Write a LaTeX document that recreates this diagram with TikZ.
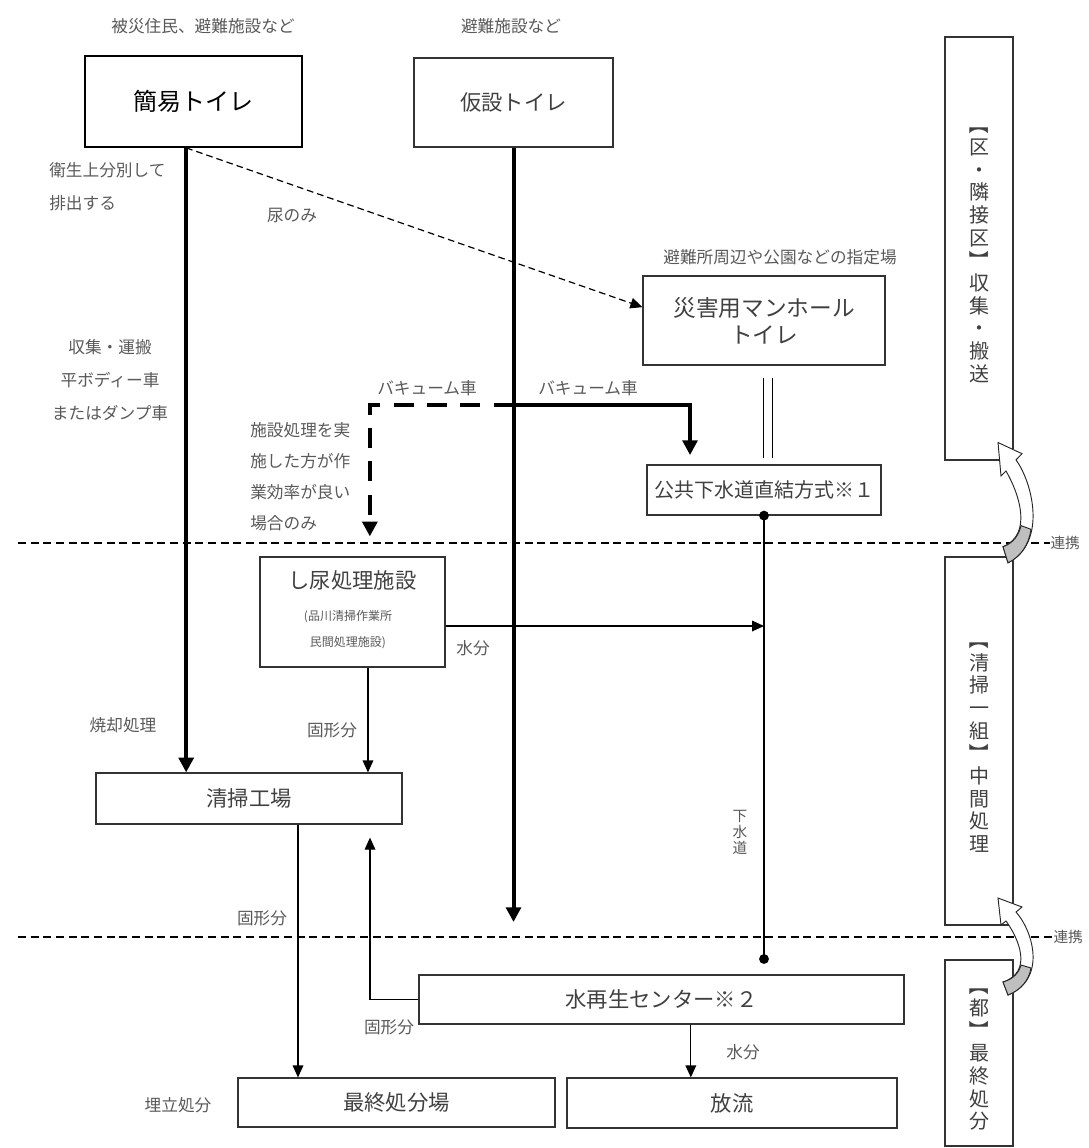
\documentclass[tikz,border=0pt]{standalone}
\usepackage{graphicx}
\usepackage{fontspec}
\setmainfont{Noto Sans CJK JP}
\usetikzlibrary{arrows.meta}

\tikzset{
  flowbox/.style={draw=black!80, line width=0.9pt, inner sep=0pt, text=black!75,
    font=\fontsize{16}{20}\selectfont},
  sidebox/.style={draw=black!80, line width=0.9pt, inner sep=0pt, minimum width=51pt,
    align=center, text=black!75, font=\fontsize{15}{17}\selectfont},
  lbl/.style={inner sep=0pt, text=black!65, font=\fontsize{12.5}{15}\selectfont},
  heavy/.style={line width=3pt, -{Triangle[width=11pt,length=11pt]}},
  light/.style={line width=0.9pt, -{Triangle[width=8pt,length=9pt]}},
  zoneline/.style={line width=0.8pt, dash pattern=on 6pt off 3.5pt},
}

% vertical brackets for the side boxes
\newcommand{\vopen}{\rotatebox[origin=c]{-90}{【}}
\newcommand{\vclose}{\rotatebox[origin=c]{-90}{】}}

\newcommand{\linkarrow}[1]{%
  \begin{scope}[#1]
    \filldraw[fill=white, draw=black!85, line width=0.7pt]
      (1008,995) .. controls (1047,979) and (1033,931) .. (1016,912)
      -- (1022,907) -- (998,898) -- (1001,925) -- (1006,921)
      .. controls (1019,939) and (1033,972) .. (1003,982) -- cycle;
    \filldraw[fill=black!25, draw=black!85, line width=0.7pt]
      (1008,995) .. controls (1021,990) and (1029,980) .. (1031,968)
      -- (1021,965) .. controls (1019,972) and (1014,979) .. (1003,982) -- cycle;
  \end{scope}}

\begin{document}
\begin{tikzpicture}[x=0.75pt, y=-0.75pt]
\useasboundingbox (0,0) rectangle (1088,1148);

% upper stage
\node[lbl] (hisai) at (203,26) {被災住民、避難施設など};
\node[lbl] (hinan) at (511,26) {避難施設など};
\node[flowbox, draw=black, line width=1.3pt, text=black, minimum width=162.75pt, minimum height=68.25pt,
  font=\fontsize{18}{20}\selectfont] (kanni) at (193.5,101.5) {簡易トイレ};
\node[flowbox, minimum width=149.25pt, minimum height=66.75pt] (kasetsu) at (513.5,102.5) {仮設トイレ};
\node[lbl] (shitei) at (780,257) {避難所周辺や公園などの指定場};
\node[flowbox, align=center, minimum width=181.5pt, minimum height=66.75pt,
  font=\fontsize{17}{20}\selectfont] (saigai) at (764,320.5) {災害用マンホール\\トイレ};
\node[flowbox, minimum width=175.5pt, minimum height=37.5pt,
  font=\fontsize{15}{18}\selectfont] (koukyou) at (764,490) {公共下水道直結方式※１};

\node[lbl, align=left, anchor=west, font=\fontsize{12.5}{24.75}\selectfont] (eisei) at (49,186.5) {衛生上分別して\\排出する};
\node[lbl] (nyou) at (292,215) {尿のみ};
\node[lbl, align=center, font=\fontsize{12.5}{24.75}\selectfont] (shuusyuu) at (110,380) {収集・運搬\\平ボディー車\\またはダンプ車};
\node[lbl, align=left, anchor=west, font=\fontsize{12.5}{23.25}\selectfont] (jouken) at (250,476.5) {施設処理を実\\施した方が作\\業効率が良い\\場合のみ};
\node[lbl] (vac1) at (427,388) {バキューム車};
\node[lbl] (vac2) at (588,388) {バキューム車};

% middle stage
\node[flowbox, minimum width=138.75pt, minimum height=82.5pt] (shinyo) at (352.5,612) {};
\node[text=black!75, font=\fontsize{16}{20}\selectfont, inner sep=0pt] (shinyot) at (352.5,580) {し尿処理施設};
\node[lbl, align=center, font=\fontsize{9}{19.5}\selectfont] (shinyos) at (348,630) {(品川清掃作業所\\民間処理施設)};
\node[flowbox, minimum width=229.5pt, minimum height=38.25pt] (seisou) at (249,798.5) {清掃工場};
\node[lbl] (syoukyaku) at (123,725) {焼却処理};
\node[lbl] (kokei1) at (332,730) {固形分};
\node[lbl] (suibun1) at (473,648) {水分};
\node[lbl, align=center, font=\fontsize{11}{12}\selectfont] (gesuidou) at (740,832) {下\\水\\道};
\node[lbl] (kokei2) at (262,918) {固形分};

% lower stage
\node[flowbox, minimum width=363.75pt, minimum height=36.75pt] (mizu) at (661.5,999.5) {水再生センター※２};
\node[lbl] (kokei3) at (389,1027) {固形分};
\node[lbl] (suibun2) at (743,1052) {水分};
\node[flowbox, minimum width=237.75pt, minimum height=36.75pt] (saishu) at (396.5,1102.5) {最終処分場};
\node[flowbox, minimum width=247.5pt, minimum height=37.5pt] (houryuu) at (732,1103) {放流};
\node[lbl] (umetate) at (178,1105) {埋立処分};

% side boxes
\node[sidebox, minimum height=317.25pt] (boxku) at (979,248.5) {\vopen\\区\\・\\隣\\接\\区\\\vclose\\収\\集\\・\\搬\\送};
\node[sidebox, minimum height=276pt] (boxkumi) at (979,741) {\vopen\\清\\掃\\一\\組\\\vclose\\中\\間\\処\\理};
\node[sidebox, minimum height=139.5pt] (boxto) at (979,1053) {\vopen\\都\\\vclose\\最\\終\\処\\分};

% zone lines
\draw[zoneline] (18,543) -- (1050,543) node[lbl, right, font=\fontsize{11}{12}\selectfont] (renkei1) {連携};
\draw[zoneline] (18,937) -- (1053,937) node[lbl, right, font=\fontsize{11}{12}\selectfont] (renkei2) {連携};

% connectors
\coordinate (vac) at (513.5,405);
\coordinate (kasend) at (513.5,922);
\coordinate (gesui) at (764,959);
\draw[heavy] ([xshift=-5.5pt]kanni.south) coordinate (kx) -- (kx |- seisou.north);
\draw[heavy] (kasetsu.south) -- (kasend);
\draw[heavy, shorten >=7pt] (vac) -| ([xshift=-55.5pt]koukyou.north);
\draw[heavy, dash pattern=on 15pt off 10pt, shorten >=15pt] (vac) -| ([xshift=13pt]shinyo.north);
\draw[light, dash pattern=on 5pt off 3pt] (kx) -- ([yshift=10pt]saigai.west);
\draw[double, double distance=6pt, line width=0.8pt] ([xshift=3pt, yshift=-9pt]saigai.south) -- ([xshift=3pt, yshift=5pt]koukyou.north);
\fill (koukyou.south) circle (3.7pt);
\draw[line width=0.9pt] (koukyou.south) -- (gesui);
\fill (gesui) circle (3.7pt);
\coordinate (wout) at ([yshift=-10.5pt]shinyo.east);
\draw[light] (wout) -- (wout -| gesui);
\draw[light] ([xshift=11.6pt]shinyo.south) coordinate (sx) -- (sx |- seisou.north);
\draw[light] ([xshift=36.75pt]seisou.south) coordinate (fx) -- (fx |- saishu.north);
\draw[light, shorten >=9.75pt] (mizu.west) -| ([xshift=90.75pt]seisou.south);
\draw[light] ([xshift=22pt]mizu.south) coordinate (wx) -- (wx |- houryuu.north);

% renkei arrows
\linkarrow{yshift=503.25pt, yscale=1.24}
\linkarrow{}
\end{tikzpicture}
\end{document}
